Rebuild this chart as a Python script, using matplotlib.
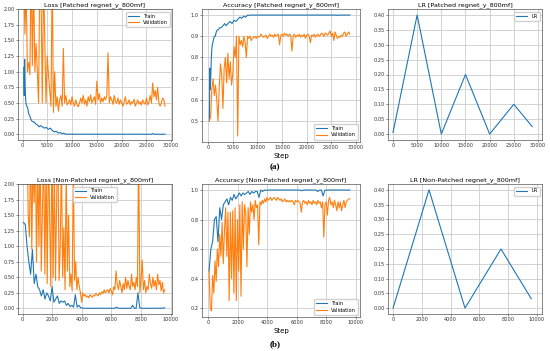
import numpy as np
import matplotlib
matplotlib.use("Agg")
import matplotlib.pyplot as plt

# ---- (a) Patched regnet_y_800mf ----
train_steps_a = [200, 300, 400, 500, 600, 700, 800, 1000, 1200, 1400, 1600, 1800, 2000, 2300, 2600,
                 3000, 3300, 3600, 4000, 4400, 4800, 5200, 5600, 6000, 6400, 6800, 7200, 7600, 8000,
                 8300, 8600, 9000, 12000, 16000, 20000, 24000, 26000, 26300, 26600, 28800]
train_loss_a = [1.07, 0.62, 1.2, 0.75, 0.55, 0.48, 0.45, 0.43, 0.33, 0.3, 0.25, 0.22, 0.2, 0.2, 0.17,
                0.15, 0.12, 0.14, 0.12, 0.1, 0.11, 0.08, 0.1, 0.06, 0.04, 0.05, 0.02, 0.03, 0.01,
                0.02, 0.005, 0.003, 0.002, 0.002, 0.002, 0.002, 0.002, 0.012, 0.002, 0.002]
train_acc_a = [0.5, 0.75, 0.65, 0.72, 0.8, 0.84, 0.86, 0.88, 0.9, 0.9, 0.92, 0.93, 0.93, 0.94, 0.94,
               0.95, 0.96, 0.95, 0.96, 0.97, 0.96, 0.975, 0.97, 0.98, 0.99, 0.985, 0.995, 0.99, 1.0,
               0.998, 1.0, 1.0, 1.0, 1.0, 1.0, 1.0, 1.0, 0.998, 1.0, 1.0]

val_loss_a = [2.6, 1.6, 2.4, 1.0, 1.15, 0.95, 2.8, 1.1, 2.5, 1.0, 1.45, 1.0, 0.5, 2.6, 2.3, 0.5,
              2.5, 1.5, 0.5, 1.25, 0.95, 0.7, 0.45, 2.6, 0.35, 1.0, 0.45, 0.6, 0.37, 0.55, 0.62,
              0.45, 1.37, 0.5, 0.62, 0.47,
              0.5, 0.55, 0.47, 0.6, 0.5, 0.45, 0.55, 0.48, 0.44, 0.5,
              0.58, 0.5, 0.62, 0.48, 0.55, 0.45, 0.6, 0.52, 0.63, 0.5,
              0.55, 0.6, 0.48, 0.85, 0.55, 0.65, 0.5, 0.58, 0.52, 0.6,
              0.55, 0.62, 1.3, 0.5, 0.6, 0.55, 0.48, 0.62, 0.52, 0.5,
              0.58, 0.48, 0.55, 0.5, 0.45, 0.52, 0.6, 0.48, 0.5, 0.55,
              0.47, 0.52, 0.5, 0.56, 0.45, 0.5, 0.55, 0.48, 0.52, 0.47,
              0.55, 0.5, 0.48, 0.58, 0.47, 0.52, 0.62, 0.5, 0.82, 0.6,
              0.7, 0.55, 0.75, 0.5, 0.45, 0.5, 0.58, 0.55, 0.45]
val_acc_a = [0.5, 0.52, 0.65, 0.7, 0.62, 0.67, 0.6, 0.5, 0.66, 0.77, 0.72, 0.56, 0.75, 0.8, 0.68,
             0.82, 0.7, 0.78, 0.67, 0.72, 0.85, 0.8, 0.9, 0.43, 0.9, 0.86, 0.88, 0.85, 0.9, 0.87,
             0.8, 0.9, 0.89, 0.9, 0.88, 0.89,
             0.895, 0.9, 0.89, 0.9, 0.895, 0.9, 0.91, 0.9, 0.895, 0.9,
             0.905, 0.89, 0.9, 0.91, 0.9, 0.905, 0.895, 0.91, 0.9, 0.905,
             0.91, 0.86, 0.905, 0.91, 0.9, 0.915, 0.905, 0.91, 0.9, 0.91,
             0.905, 0.83, 0.9, 0.91, 0.895, 0.905, 0.9, 0.91, 0.895, 0.905,
             0.9, 0.91, 0.89, 0.905, 0.91, 0.9, 0.87, 0.905, 0.9, 0.91,
             0.895, 0.905, 0.91, 0.9, 0.905, 0.915, 0.91, 0.9, 0.915, 0.91,
             0.905, 0.915, 0.925, 0.9, 0.915, 0.88, 0.92, 0.905, 0.89, 0.9,
             0.895, 0.905, 0.9, 0.915, 0.92, 0.9, 0.91, 0.92, 0.91]
lr_steps_a = [0, 5000, 10000, 15000, 20000, 25000, 28800]
lr_a = [0.005, 0.4, 0.0, 0.2, 0.0, 0.1, 0.025]

# ---- (b) Non-Patched regnet_y_800mf ----
train_loss_b = [1.38, 1.35, 1.0, 0.75, 0.55, 0.95, 0.4, 0.55, 0.35, 0.3,
                0.2, 0.3, 0.15, 0.25, 0.2, 0.12, 0.35, 0.1, 0.15, 0.2,
                0.08, 0.12, 0.1, 0.12, 0.05, 0.08, 0.03, 0.05, 0.02, 0.22,
                0.02, 0.05, 0.01, 0.005, 0.003, 0.002, 0.002, 0.003, 0.002, 0.002,
                0.002, 0.003, 0.002, 0.002, 0.003, 0.002, 0.002, 0.002, 0.003, 0.002,
                0.002, 0.002, 0.02, 0.002, 0.003, 0.002, 0.002, 0.002, 0.003, 0.002,
                0.002, 0.05, 0.002, 0.003, 0.25, 0.01, 0.003, 0.002, 0.002, 0.003,
                0.002, 0.002, 0.003, 0.002, 0.002, 0.003, 0.002, 0.002, 0.005, 0.01]
train_acc_b = [0.45, 0.6, 0.65, 0.8, 0.82, 0.65, 0.88, 0.8, 0.9, 0.92,
               0.94, 0.9, 0.95, 0.93, 0.97, 0.94, 0.96, 0.98, 0.96, 0.98,
               0.97, 0.98, 0.99, 0.97, 0.99, 0.98, 0.99, 0.99, 0.95, 1.0,
               0.99, 1.0, 0.998, 1.0, 1.0, 1.0, 1.0, 1.0, 1.0, 1.0,
               1.0, 1.0, 1.0, 1.0, 1.0, 1.0, 1.0, 1.0, 1.0, 1.0,
               1.0, 1.0, 0.995, 1.0, 1.0, 1.0, 1.0, 1.0, 1.0, 1.0,
               1.0, 0.99, 1.0, 1.0, 0.96, 0.998, 1.0, 1.0, 1.0, 1.0,
               1.0, 1.0, 1.0, 1.0, 1.0, 1.0, 1.0, 1.0, 1.0, 1.0]
val_loss_b = [2.0, 2.6, 2.3, 2.8, 1.5, 1.15, 2.7, 0.95, 2.5, 1.7,
              2.6, 0.75, 2.4, 1.0, 2.7, 0.6, 1.6, 2.5, 0.55, 2.4,
              0.4, 2.6, 1.5, 0.35, 2.7, 0.5, 2.3, 0.45, 1.8, 2.6,
              0.45, 1.0, 2.4, 0.5, 1.3, 0.3, 2.2, 0.6, 1.5, 0.35,
              0.55, 0.28, 2.3, 0.45, 0.75, 0.3, 0.5, 0.35, 0.25, 0.1,
              0.25, 0.2, 0.22, 0.18, 0.2, 0.17, 0.22, 0.2, 0.18, 0.21,
              0.2, 0.24, 0.22, 0.2, 0.25, 0.22, 0.27, 0.24, 0.3, 0.25,
              0.28, 0.3, 0.25, 0.32, 0.28, 0.22, 0.35, 0.3, 0.6, 0.38,
              0.3, 0.45, 0.35, 0.25, 0.4, 0.3, 0.5, 0.32, 0.45, 0.35,
              0.3, 0.55, 0.35, 0.42, 0.3, 0.5, 0.35, 2.6, 0.25, 0.45,
              0.78, 0.3, 0.45, 0.25, 0.35, 0.3, 0.55, 0.4, 0.32, 0.5,
              0.35, 0.45, 0.3, 0.55, 0.38, 0.45, 0.28, 0.42, 0.25, 0.3]
val_acc_b = [0.45, 0.2, 0.18, 0.42, 0.3, 0.52, 0.38, 0.6, 0.48, 0.7,
             0.55, 0.78, 0.5, 0.72, 0.88, 0.55, 0.85, 0.25, 0.85, 0.4,
             0.86, 0.3, 0.88, 0.25, 0.8, 0.45, 0.9, 0.28, 0.92, 0.6,
             0.9, 0.85, 0.48, 0.88, 0.7, 0.92, 0.85, 0.9, 0.8, 0.93,
             0.88, 0.9, 0.63, 0.92, 0.9, 0.93, 0.91, 0.94, 0.92, 0.95,
             0.93, 0.94, 0.95, 0.93, 0.94, 0.95, 0.94, 0.93, 0.95, 0.94,
             0.93, 0.94, 0.92, 0.93, 0.94, 0.92, 0.93, 0.92, 0.93, 0.92,
             0.93, 0.92, 0.9, 0.93, 0.92, 0.93, 0.92, 0.91, 0.85, 0.92,
             0.93, 0.91, 0.92, 0.9, 0.93, 0.91, 0.92, 0.9, 0.93, 0.91,
             0.92, 0.9, 0.93, 0.91, 0.92, 0.88, 0.92, 0.68, 0.9, 0.92,
             0.83, 0.93, 0.95, 0.9, 0.92, 0.88, 0.93, 0.9, 0.86, 0.92,
             0.88, 0.92, 0.86, 0.9, 0.93, 0.88, 0.92, 0.93, 0.94, 0.94]
lr_steps_b = [0, 2500, 5000, 7500, 9600]
lr_b = [0.0, 0.4, 0.0, 0.2, 0.032]

val_steps_a = np.linspace(200, 28800, len(val_loss_a))
train_steps_b = np.linspace(50, 9600, len(train_loss_b))
val_steps_b = np.linspace(50, 9600, len(val_loss_b))

W, H = 550, 351
BLUE, ORANGE = "#1f77b4", "#ff7f0e"


def box(l, t, r, b):
    return [l / W, 1 - b / H, (r - l) / W, (b - t) / H]


def style(ax, title):
    ax.set_title(title, fontsize=4.6, pad=2)
    ax.grid(True, color="#cccccc", lw=0.6)
    ax.tick_params(labelsize=3.6, length=1.5, width=0.4, pad=1, colors="#333333")
    for s in ax.spines.values():
        s.set_linewidth(0.5)
        s.set_color("#555555")


def legend(ax, loc):
    ax.legend(loc=loc, fontsize=3.6, handlelength=2.2, borderpad=0.4,
              labelspacing=0.3, framealpha=0.9, edgecolor="#cccccc", fancybox=True)


fig = plt.figure(figsize=(W / 100, H / 100), dpi=100)

# name, top, bottom, acc bottom, data..., loss legend, x tick step, x limits (loss, acc, lr)
rows = [
    ("Patched", 9, 140, 142, train_steps_a, train_loss_a, train_acc_a, val_steps_a,
     val_loss_a, val_acc_a, lr_steps_a, lr_a, "upper right", 5000,
     (-950, 30200), (-1300, 30870), (-1030, 30830)),
    ("Non-Patched", 184, 314, 317, train_steps_b, train_loss_b, train_acc_b, val_steps_b,
     val_loss_b, val_acc_b, lr_steps_b, lr_b, "upper center", 2000,
     (-320, 10090), (-430, 10290), (-350, 10350)),
]

for (name, top, bot, bot_acc, ts, tl, ta, vs, vl, va, ls, lr, lloc, xstep,
     xl_loss, xl_acc, xl_lr) in rows:
    ax = fig.add_axes(box(18, top, 172, bot))
    ax.plot(ts, tl, color=BLUE, lw=0.8, label="Train")
    ax.plot(vs, vl, color=ORANGE, lw=0.8, label="Validation")
    ax.set_ylim(-0.09, 2.0)
    ax.set_xlim(*xl_loss)
    ax.set_yticks(np.arange(0, 2.01, 0.25))
    ax.xaxis.set_major_locator(plt.MultipleLocator(xstep))
    style(ax, "Loss [%s regnet_y_800mf]" % name)
    legend(ax, lloc)

    ax = fig.add_axes(box(202, top, 360, bot_acc))
    ax.plot(ts, ta, color=BLUE, lw=0.8, label="Train")
    ax.plot(vs, va, color=ORANGE, lw=0.8, label="Validation")
    ax.set_xlim(*xl_acc)
    ax.xaxis.set_major_locator(plt.MultipleLocator(xstep))
    style(ax, "Accuracy [%s regnet_y_800mf]" % name)
    ax.set_xlabel("Step", fontsize=5, labelpad=1.5)
    legend(ax, "lower right")

    ax = fig.add_axes(box(388, top, 542, bot))
    ax.plot(ls, lr, color=BLUE, lw=0.8, label="LR")
    ax.set_xlim(*xl_lr)
    ax.xaxis.set_major_locator(plt.MultipleLocator(xstep))
    ax.yaxis.set_major_locator(plt.MultipleLocator(0.05))
    style(ax, "LR [%s regnet_y_800mf]" % name)
    legend(ax, "upper right")

fig.text(275 / W, 1 - 167 / H, "(a)", ha="center", va="center", fontsize=6.5,
         fontweight="bold", family="Liberation Serif")
fig.text(275 / W, 1 - 344 / H, "(b)", ha="center", va="center", fontsize=6.5,
         fontweight="bold", family="Liberation Serif")

fig.savefig("out.png", dpi=100, facecolor="white")
